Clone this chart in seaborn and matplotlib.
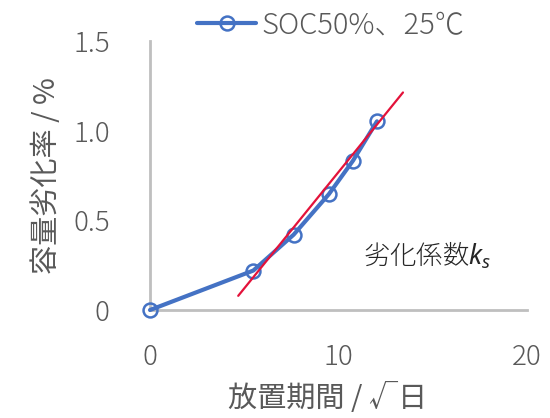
import matplotlib
matplotlib.use("Agg")
import matplotlib.pyplot as plt
import seaborn as sns
import pandas as pd

# Storage period (sqrt of days) and capacity fade (%)
sqrt_days = [0.0, 5.48, 7.62, 9.49, 10.77, 12.04]
fade_pct = [0.0, 0.22, 0.42, 0.646, 0.833, 1.052]

# Fitted degradation line (endpoints)
fit_x = [4.68, 13.42]
fit_y = [0.079, 1.213]

series_label = "SOC50%、25℃"
x_ticks = [0, 10, 20]
y_ticks = [0, 0.5, 1.0, 1.5]
y_tick_labels = ["0", "0.5", "1.0", "1.5"]

sns.set_style("white")
plt.rcParams["font.family"] = ["Noto Sans CJK JP", "DejaVu Sans"]
plt.rcParams["font.weight"] = "light"
plt.rcParams["mathtext.fontset"] = "custom"
plt.rcParams["mathtext.it"] = "Noto Sans:italic"
plt.rcParams["mathtext.rm"] = "Noto Sans"

text_color = "#595959"
blue = "#4472C4"
red = "#E3123A"

fig = plt.figure(figsize=(5.5, 4.18), dpi=100)
ax = fig.add_axes([150 / 550, 1 - 310 / 418, 377 / 550, 269 / 418])

df = pd.DataFrame({"x": sqrt_days, "y": fade_pct})
sns.lineplot(data=df, x="x", y="y", ax=ax, color=blue, linewidth=3.0,
             marker="o", markersize=10, markerfacecolor="none",
             markeredgecolor=blue, markeredgewidth=1.8, label=series_label,
             zorder=3, clip_on=False)
ax.plot(fit_x, fit_y, color=red, linewidth=1.6, zorder=4)

ax.set_xlim(0, 20)
ax.set_ylim(0, 1.5)
ax.set_xticks(x_ticks)
ax.set_yticks(y_ticks)
ax.set_yticklabels(y_tick_labels)
ax.tick_params(axis="x", length=0, pad=24, labelsize=20, labelcolor=text_color)
ax.tick_params(axis="y", length=0, pad=29, labelsize=20, labelcolor=text_color)

for side in ("top", "right"):
    ax.spines[side].set_visible(False)
for side in ("left", "bottom"):
    ax.spines[side].set_color("#BFBFBF")
    ax.spines[side].set_linewidth(2.0)

ax.set_xlabel("放置期間 / √日", fontsize=21, color=text_color, labelpad=6)
ax.set_ylabel("容量劣化率 / %", fontsize=21, color=text_color, labelpad=8)
ax.xaxis.set_label_coords(0.47, -0.27)

ax.text(11.3, 0.22, "劣化係数$k_s$", fontsize=19, color="#262626",
        ha="left", va="bottom")

leg = ax.legend(loc="center", bbox_to_anchor=(0.48, 1.06), frameon=False,
                fontsize=21, handlelength=2.0, handletextpad=0.2,
                borderaxespad=0)
for t in leg.get_texts():
    t.set_color(text_color)

fig.savefig("out.png", dpi=100)
